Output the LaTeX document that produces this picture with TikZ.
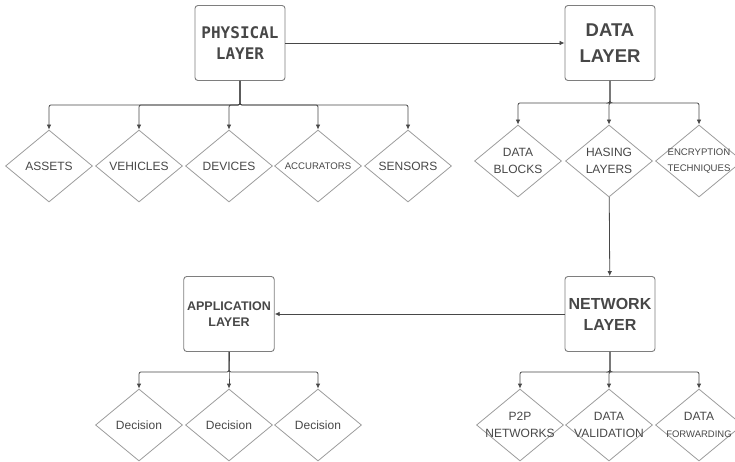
\documentclass[tikz,border=0pt]{standalone}
\usepackage{fontspec}
\setmainfont{Liberation Sans}
\newfontfamily\monofont{DejaVu Sans Mono}
\usetikzlibrary{shapes.geometric,arrows.meta}

\definecolor{inkgray}{HTML}{474747}
\definecolor{boxgray}{HTML}{7E7E7E}
\definecolor{itemgray}{HTML}{9C9C9C}

\begin{document}
\begin{tikzpicture}[
    x=1pt, y=-1pt,
    layer/.style={rectangle, draw=boxgray, line width=0.9pt, rounded corners=3pt, minimum width=90pt, minimum height=75pt, align=center, text=inkgray},
    item/.style={diamond, draw=itemgray, line width=0.8pt, minimum width=87pt, minimum height=72pt, inner xsep=-12pt, inner ysep=0pt, aspect=1.2, align=center, text=inkgray, font=\fontsize{12}{17}\selectfont},
    small/.style={font=\fontsize{9.6}{16}\selectfont},
    arrow/.style={-{Latex[length=5pt,width=4.5pt]}, draw=inkgray, line width=0.8pt, rounded corners=2pt}
]
\useasboundingbox (0,0) rectangle (735,462);

% Layer boxes
\node[layer, font=\monofont\bfseries\fontsize{16}{21}\selectfont] (phys) at (240,43) {PHYSICAL\\LAYER};
\node[layer, font=\bfseries\fontsize{18.5}{26}\selectfont] (data) at (610,43) {DATA\\LAYER};
\node[layer, font=\bfseries\fontsize{16}{21}\selectfont] (net) at (610,314) {NETWORK\\LAYER};
\node[layer, font=\bfseries\fontsize{12.5}{16}\selectfont] (app) at (229,314) {APPLICATION\\LAYER};

% Physical layer items
\node[item] (assets) at (49,166) {ASSETS};
\node[item] (vehicles) at (139,166) {VEHICLES};
\node[item] (devices) at (229,166) {DEVICES};
\node[item, small] (accur) at (318,166) {ACCURATORS};
\node[item] (sensors) at (408,166) {SENSORS};

% Data layer items
\node[item] (blocks) at (518,161) {DATA\\BLOCKS};
\node[item] (hasing) at (609,161) {HASING\\LAYERS};
\node[item, small] (encrypt) at (699,161) {ENCRYPTION\\TECHNIQUES};

% Network layer items
\node[item] (p2p) at (520,425) {P2P\\NETWORKS};
\node[item] (valid) at (609,425) {DATA\\VALIDATION};
\node[item] (forward) at (699,425) {DATA\\{\fontsize{9.5}{12}\selectfont FORWARDING}};

% Application layer items
\node[item] (dec1) at (139,425) {Decision};
\node[item] (dec2) at (229,425) {Decision};
\node[item] (dec3) at (318,425) {Decision};

% Flow between layers
\draw[arrow] (phys) -- (data);
\draw[arrow] (hasing) -- (net);
\draw[arrow] (net) -- (app);

% Physical layer branches
\draw[arrow] (phys.south) -- ++(0,24) -| (assets.north);
\draw[arrow] (phys.south) -- ++(0,24) -| (vehicles.north);
\draw[arrow] (phys.south) -- ++(0,24) -| (devices.north);
\draw[arrow] (phys.south) -- ++(0,24) -| (accur.north);
\draw[arrow] (phys.south) -- ++(0,24) -| (sensors.north);

% Data layer branches
\draw[arrow] (data.south) -- ++(0,22) -| (blocks.north);
\draw[arrow] (data.south) -- ++(0,22) -| (hasing.north);
\draw[arrow] (data.south) -- ++(0,22) -| (encrypt.north);

% Network layer branches
\draw[arrow] (net.south) -- ++(0,20) -| (p2p.north);
\draw[arrow] (net.south) -- ++(0,20) -| (valid.north);
\draw[arrow] (net.south) -- ++(0,20) -| (forward.north);

% Application layer branches
\draw[arrow] (app.south) -- ++(0,20) -| (dec1.north);
\draw[arrow] (app.south) -- ++(0,20) -| (dec2.north);
\draw[arrow] (app.south) -- ++(0,20) -| (dec3.north);

\end{tikzpicture}
\end{document}
